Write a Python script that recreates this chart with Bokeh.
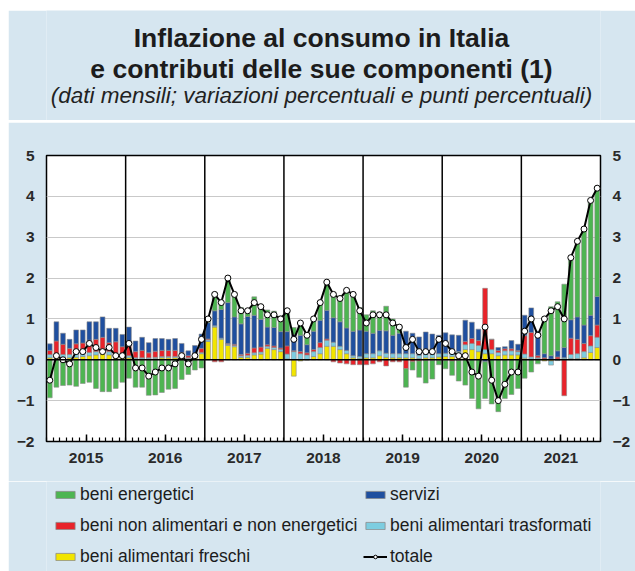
from bokeh.plotting import figure
from bokeh.models import (ColumnDataSource, Range1d, FixedTicker, LinearAxis, Span,
                          Legend, LegendItem)
from bokeh.layouts import column
from bokeh.embed import file_html
from bokeh.resources import INLINE
from bokeh.core.properties import value

# ---------------- data (monthly, Jan 2015 - Dec 2021) ----------------
years = ["2015", "2016", "2017", "2018", "2019", "2020", "2021"]

freschi = [0.05, 0.06, 0.05, 0.05, 0.06, 0.08, 0.10, 0.12, 0.15, 0.12, 0.08, 0.06,
           0.05, 0.02, 0.02, 0.02, 0.03, 0.05, 0.05, 0.05, 0.05, 0.03, 0.05, 0.15,
           0.45, 0.80, 0.50, 0.35, 0.32, 0.06, 0.06, 0.12, 0.14, 0.28, 0.25, 0.20,
           0.02, -0.40, -0.03, 0.00, 0.08, 0.15, 0.33, 0.33, 0.25, 0.15, 0.05, 0.03,
           0.05, 0.05, 0.10, 0.06, 0.05, 0.05, 0.05, 0.05, 0.03, 0.05, 0.05, 0.07,
           0.08, 0.08, 0.10, 0.25, 0.25, 0.20, 0.15, 0.15, 0.10, 0.12, 0.12, 0.12,
           0.04, 0.02, 0.02, -0.03, -0.03, 0.02, 0.02, 0.03, 0.03, 0.05, 0.18, 0.30]

trasformati = [0.08, 0.08, 0.08, 0.08, 0.08, 0.08, 0.08, 0.08, 0.08, 0.08, 0.08, 0.06,
               0.05, 0.03, 0.03, 0.03, 0.03, 0.03, 0.03, 0.03, 0.03, 0.02, 0.03, 0.03,
               0.04, 0.03, 0.03, 0.03, 0.03, 0.04, 0.05, 0.05, 0.05, 0.05, 0.05, 0.06,
               0.12, 0.20, 0.15, 0.12, 0.12, 0.15, 0.15, 0.10, 0.08, 0.08, 0.05, 0.05,
               0.10, 0.10, 0.12, 0.10, 0.10, 0.10, 0.10, 0.10, 0.08, 0.08, 0.08, 0.08,
               0.08, 0.08, 0.10, 0.12, 0.15, 0.15, 0.10, 0.10, 0.08, 0.10, 0.10, 0.08,
               0.10, 0.05, 0.03, 0.02, -0.10, -0.02, 0.03, 0.10, 0.12, 0.15, 0.16, 0.25]

non_alimentari = [0.10, 0.32, 0.25, 0.15, 0.25, 0.25, 0.30, 0.30, 0.32, 0.22, 0.28, 0.20,
                  0.25, 0.15, 0.18, 0.12, 0.15, 0.15, 0.15, 0.15, 0.10, 0.05, 0.08, 0.10,
                  0.02, -0.05, -0.05, 0.02, 0.03, 0.03, 0.05, 0.12, 0.12, 0.04, 0.04, 0.03,
                  0.20, 0.02, 0.05, 0.05, 0.05, 0.12, 0.03, -0.05, -0.08, -0.10, -0.12, -0.12,
                  -0.12, -0.10, -0.05, -0.15, -0.05, -0.05, -0.22, -0.05, -0.03, -0.02, -0.02, -0.02,
                  -0.02, -0.03, -0.02, 0.08, 0.12, 0.12, 1.50, 0.25, 0.05, 0.05, 0.05, 0.03,
                  0.45, 0.60, 0.05, 0.03, 0.02, 0.05, -0.88, 0.40, 0.35, 0.20, 0.25, 0.30]

servizi = [0.16, 0.47, 0.27, 0.22, 0.34, 0.32, 0.45, 0.43, 0.50, 0.35, 0.33, 0.30,
           0.45, 0.26, 0.32, 0.25, 0.31, 0.29, 0.27, 0.29, 0.22, 0.12, 0.19, 0.35,
           0.40, 0.37, 0.70, 1.00, 0.67, 0.75, 0.90, 0.80, 0.68, 0.43, 0.45, 0.40,
           0.35, 0.40, 0.40, 0.20, 0.45, 0.55, 0.70, 0.60, 0.60, 0.55, 0.60, 0.65,
           0.55, 0.50, 0.50, 0.55, 0.45, 0.50, 0.55, 0.50, 0.45, 0.55, 0.50, 0.45,
           0.50, 0.45, 0.40, 0.52, 0.40, 0.28, -0.05, 0.00, 0.07, 0.05, 0.20, 0.15,
           0.50, 0.60, 0.60, 0.10, 0.08, 0.15, 0.25, 0.45, 0.55, 0.45, 0.50, 0.70]

energetici = [-0.93, -0.67, -0.63, -0.62, -0.65, -0.58, -0.55, -0.70, -0.78, -0.78, -0.70, -0.55,
              -0.45, -0.67, -0.67, -0.87, -0.86, -0.80, -0.72, -0.70, -0.48, -0.36, -0.25, -0.20,
              0.10, 0.45, 0.20, 0.65, 0.60, 0.40, 0.15, 0.45, 0.30, 0.42, 0.40, 0.38,
              0.50, 0.17, 0.30, 0.30, 0.30, 0.45, 0.65, 0.62, 0.60, 0.95, 0.95, 0.55,
              0.40, 0.55, 0.45, 0.60, 0.40, 0.20, -0.45, -0.20, -0.40, -0.55, -0.45, -0.10,
              -0.20, -0.35, -0.50, -0.62, -0.95, -1.20, -0.90, -1.08, -1.27, -0.95, -0.85, -0.70,
              -0.45, -0.30, -0.10, 0.88, 1.20, 1.20, 1.55, 1.50, 1.85, 2.35, 2.77, 2.70]

totale = [-0.5, 0.1, 0.0, -0.1, 0.2, 0.2, 0.4, 0.3, 0.2, 0.3, 0.1, 0.1,
          0.4, -0.2, -0.2, -0.4, -0.3, -0.2, -0.2, -0.1, 0.1, -0.1, 0.1, 0.5,
          1.0, 1.6, 1.4, 2.0, 1.6, 1.2, 1.2, 1.4, 1.3, 1.1, 1.1, 1.0,
          1.2, 0.5, 0.9, 0.6, 1.0, 1.4, 1.9, 1.6, 1.5, 1.7, 1.6, 1.2,
          0.9, 1.1, 1.1, 1.1, 0.9, 0.8, 0.3, 0.5, 0.2, 0.2, 0.2, 0.5,
          0.4, 0.2, 0.1, 0.1, -0.3, -0.4, 0.8, -0.5, -1.0, -0.6, -0.3, -0.3,
          0.7, 1.0, 0.6, 1.0, 1.2, 1.3, 1.0, 2.5, 2.9, 3.2, 3.9, 4.2]

y_ticks = [-2, -1, 0, 1, 2, 3, 4, 5]

title_lines = ["Inflazione al consumo in Italia", "e contributi delle sue componenti (1)"]
subtitle = "(dati mensili; variazioni percentuali e punti percentuali)"

# ---------------- style ----------------
BG = "#d6e6f0"
TEAL = "#2f6f8e"
FONT = "Liberation Sans"
W = 627
BL, BR = 38, 35          # left / right borders shared by all stacked figures
FW = W - BL - BR         # frame width
HEAD_H = 110
RULE_H = 2
MAIN_H = 359
LEG_H = 90


def panel(height, fill):
    f = figure(width=W, height=height, x_range=Range1d(0, FW), y_range=Range1d(0, height),
               toolbar_location=None, output_backend="svg", x_axis_type=None,
               y_axis_type=None, title=None, min_border=0, min_border_left=BL,
               min_border_right=BR, min_border_top=0, min_border_bottom=0,
               outline_line_color=None, background_fill_color=fill, border_fill_color=fill)
    f.grid.visible = False
    return f


# ---------------- header ----------------
h = panel(HEAD_H, BG)
cx = 275
h.text(x=[cx], y=[83], text=[title_lines[0]], text_font=value(FONT), text_font_style="bold",
       text_font_size="26.5px", text_align="center", text_baseline="middle", text_color="#1c1c1c")
h.text(x=[cx], y=[52], text=[title_lines[1]], text_font=value(FONT), text_font_style="bold",
       text_font_size="26.5px", text_align="center", text_baseline="middle", text_color="#1c1c1c")
h.text(x=[cx], y=[25], text=[subtitle], text_font=value(FONT), text_font_style="italic",
       text_font_size="22.5px", text_align="center", text_baseline="middle", text_color="#222222")

rule = panel(RULE_H, TEAL)

# ---------------- main chart ----------------
n = len(totale)
xs = list(range(n))

p = figure(width=W, height=MAIN_H, x_range=Range1d(-0.5, n - 0.5), y_range=Range1d(-2, 5),
           toolbar_location=None, output_backend="svg", title=None,
           min_border_left=BL, min_border_right=BR, min_border_top=33, min_border_bottom=40,
           background_fill_color="white", border_fill_color=BG,
           outline_line_color="black", outline_line_width=1.5)

p.xgrid.visible = False
p.ygrid.ticker = FixedTicker(ticks=[t for t in y_ticks if t not in (0, -2, 5)])
p.ygrid.grid_line_color = "#c9c9c9"
p.ygrid.grid_line_width = 1

components = [
    ("beni alimentari freschi", freschi, "#f2e500"),
    ("beni alimentari trasformati", trasformati, "#7dcde0"),
    ("beni non alimentari e non energetici", non_alimentari, "#e8232a"),
    ("servizi", servizi, "#1f4f9f"),
    ("beni energetici", energetici, "#4db551"),
]
BAR_LINE = "#8c8c8c"

pos = [0.0] * n
neg = [0.0] * n
for name, vals, col in components:
    bottom, top = [], []
    for i, v in enumerate(vals):
        if v >= 0:
            bottom.append(pos[i]); top.append(pos[i] + v); pos[i] += v
        else:
            bottom.append(neg[i]); top.append(neg[i] + v); neg[i] += v
    src = ColumnDataSource(dict(x=xs, bottom=bottom, top=top))
    p.vbar(x="x", bottom="bottom", top="top", width=0.72, source=src,
           fill_color=col, line_color=BAR_LINE, line_width=0.6)

# separators and zero line
for k in range(1, len(years)):
    p.add_layout(Span(location=12 * k - 0.5, dimension="height", line_color="black",
                      line_width=1.5))
p.add_layout(Span(location=0, dimension="width", line_color="black", line_width=1.5))

tot_src = ColumnDataSource(dict(x=xs, y=totale))
p.line("x", "y", source=tot_src, line_color="black", line_width=2)
p.scatter("x", "y", source=tot_src, marker="circle", size=6, fill_color="white",
          line_color="black", line_width=1)

# x axis: years at centres, monthly minor ticks inside
year_centres = [12 * k + 5.5 for k in range(len(years))]
xa = p.xaxis[0]
xa.ticker = FixedTicker(ticks=year_centres, minor_ticks=[i + 0.5 for i in range(-1, n)])
xa.major_label_overrides = {c: y for c, y in zip(year_centres, years)}
xa.axis_line_color = None
xa.major_tick_in = 7
xa.major_tick_out = 0
xa.minor_tick_in = 4
xa.minor_tick_out = 0
xa.major_tick_line_color = "black"
xa.minor_tick_line_color = "black"
xa.major_tick_line_width = 1.5
xa.minor_tick_line_width = 1.2
xa.major_label_standoff = 11
xa.major_label_text_font = FONT
xa.major_label_text_font_size = "15.5px"
xa.major_label_text_font_style = "bold"
xa.major_label_text_color = "#2a2a2a"


def style_y(ax):
    ax.ticker = FixedTicker(ticks=y_ticks)
    ax.axis_line_color = None
    ax.major_tick_line_color = None
    ax.minor_tick_line_color = None
    ax.major_tick_in = 0
    ax.major_tick_out = 0
    ax.major_label_standoff = 12
    ax.major_label_text_font = FONT
    ax.major_label_text_font_size = "15.5px"
    ax.major_label_text_font_style = "bold"
    ax.major_label_text_color = "#2a2a2a"


style_y(p.yaxis[0])
ra = LinearAxis()
style_y(ra)
p.add_layout(ra, "right")

# ---------------- legend panel ----------------
lf = panel(LEG_H, BG)
nan = float("nan")
key = {}
for name, _, col in components:
    key[name] = lf.vbar(x=[nan], top=[nan], width=0.5, fill_color=col, line_color=BAR_LINE,
                        line_width=0.8)
k_line = lf.line(x=[nan], y=[nan], line_color="black", line_width=2)
k_pts = lf.scatter(x=[nan], y=[nan], marker="circle", size=6, fill_color="white",
                   line_color="black", line_width=1)

leg_style = dict(orientation="vertical", margin=0, padding=0, spacing=10,
                 glyph_width=24, glyph_height=9, label_standoff=3, label_height=20,
                 label_text_font=FONT, label_text_font_size="17.5px",
                 label_text_color="#1c1c1c", background_fill_alpha=0, border_line_color=None)

legend1 = Legend(items=[
    LegendItem(label="beni energetici", renderers=[key["beni energetici"]]),
    LegendItem(label="beni non alimentari e non energetici",
               renderers=[key["beni non alimentari e non energetici"]]),
    LegendItem(label="beni alimentari freschi", renderers=[key["beni alimentari freschi"]]),
], location=(7, 4), **leg_style)
legend2 = Legend(items=[
    LegendItem(label="servizi", renderers=[key["servizi"]]),
    LegendItem(label="beni alimentari trasformati", renderers=[key["beni alimentari trasformati"]]),
    LegendItem(label="totale", renderers=[k_line, k_pts]),
], location=(317, 4), **leg_style)
lf.add_layout(legend1)
lf.add_layout(legend2)

layout = column(h, rule, p, lf, spacing=0, margin=(10, 0, 0, 8))

open("out.html", "w").write(file_html(layout, INLINE))
